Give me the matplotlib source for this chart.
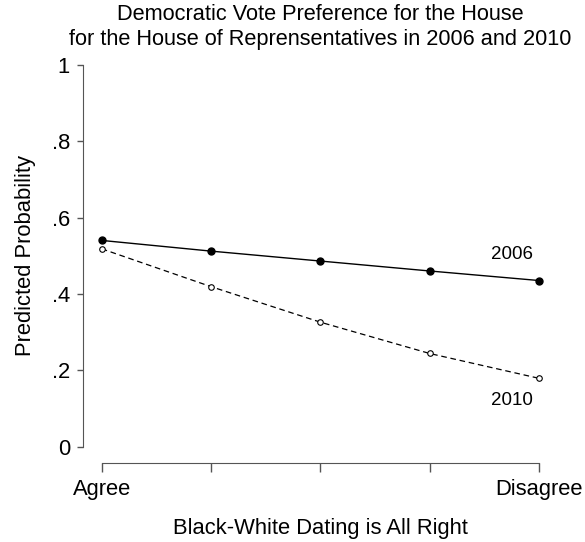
import numpy as np
import matplotlib
matplotlib.use("Agg")
import matplotlib.pyplot as plt

plt.rcParams["font.family"] = ["Liberation Sans", "DejaVu Sans"]

# predicted probabilities at each level of agreement
levels = [1, 2, 3, 4, 5]
level_labels = ["Agree", "", "", "", "Disagree"]
prob_2006 = [0.540, 0.512, 0.486, 0.460, 0.435]
prob_2010 = [0.518, 0.419, 0.326, 0.244, 0.179]
y_ticks = [0, 0.2, 0.4, 0.6, 0.8, 1.0]
y_tick_labels = ["0", ".2", ".4", ".6", ".8", "1"]

W, H = 585, 542
fig = plt.figure(figsize=(W / 100, H / 100), dpi=100)
fig.patch.set_facecolor("white")

# axes box in pixels: left spine at x=83, y=0 at 447, y=1 at 65
left, right = 83.3, 557.4
bottom, top = 446.7, 64.7
ax = fig.add_axes([left / W, (H - bottom) / H, (right - left) / W, (bottom - top) / H])

ax.plot(levels, prob_2006, color="black", lw=1.0, marker="o", ms=5,
        mfc="black", mec="black")
ax.plot(levels, prob_2010, color="black", lw=0.9, ls=(0, (4.5, 3)), marker="o", ms=4,
        mfc="white", mec="black", mew=0.8)

ax.text(4.75, 0.502, "2006", fontsize=13.5, ha="center", va="center")
ax.text(4.75, 0.122, "2010", fontsize=13.5, ha="center", va="center")

ax.set_xlim(1 - 18.4 / 109.3, 5 + 18.4 / 109.3)
ax.set_ylim(0, 1)

for side in ["top", "right"]:
    ax.spines[side].set_visible(False)
spine_color = "#555555"
ax.spines["left"].set_color(spine_color)
ax.spines["bottom"].set_color(spine_color)
ax.spines["left"].set_bounds(0, 1)
ax.spines["bottom"].set_bounds(1, 5)
ax.spines["bottom"].set_position(("outward", 12))

ax.set_xticks(levels)
ax.set_xticklabels(level_labels)
ax.set_yticks(y_ticks)
ax.set_yticklabels(y_tick_labels)
ax.tick_params(axis="x", length=6.5, width=1, color=spine_color, labelsize=15.8, pad=5)
ax.tick_params(axis="y", length=4.5, width=1, color=spine_color, labelsize=15.8, pad=5)

ax.set_xlabel("Black-White Dating is All Right", fontsize=15.8, labelpad=13)
ax.set_ylabel("Predicted Probability", fontsize=15.8, labelpad=11)

fig.text(320 / W, 1 - 27 / H,
         "Democratic Vote Preference for the House\nfor the House of Reprensentatives in 2006 and 2010",
         fontsize=15.7, ha="center", va="center", linespacing=1.2)

fig.savefig("out.png", dpi=100, facecolor="white")
